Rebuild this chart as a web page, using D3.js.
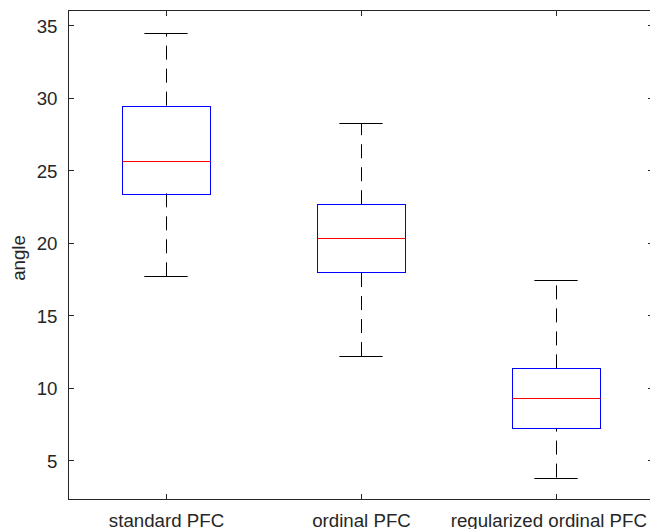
<!DOCTYPE html>
<html>
<head>
<meta charset="utf-8">
<script src="https://cdn.jsdelivr.net/npm/d3@7"></script>
<style>
  body { margin: 0; background: #fff; }
  svg { display: block; font-family: "Liberation Sans", Arial, Helvetica, sans-serif; }
  .axis text { fill: #262626; font-size: 18.7px; }
</style>
</head>
<body>
<svg id="chart"></svg>
<script>
// box plot statistics
const groups = ['standard PFC', 'ordinal PFC', 'regularized ordinal PFC'];
const lowerWhisker = [17.69, 12.19, 3.81];
const q1 = [23.41, 17.94, 7.21];
const median = [25.62, 20.33, 9.32];
const q3 = [29.46, 22.66, 11.34];
const upperWhisker = [34.45, 28.24, 17.43];
const yTicks = [5, 10, 15, 20, 25, 30, 35];
const yLimits = [2.3, 36.02];

const config = {
  width: 650,
  height: 529,
  left: 68.5,
  right: 653.5,
  top: 10.5,
  bottom: 499.5
};

const data = groups.map((g, i) => ({
  name: g,
  pos: i + 1,
  lo: lowerWhisker[i],
  q1: q1[i],
  med: median[i],
  q3: q3[i],
  hi: upperWhisker[i]
}));

const svg = d3.select('#chart')
    .attr('width', config.width)
    .attr('height', config.height);

const xScale = d3.scaleLinear()
    .domain([0.5, groups.length + 0.5])
    .range([config.left, config.right]);

const yScale = d3.scaleLinear()
    .domain(yLimits)
    .range([config.bottom, config.top]);

const boxHalf = 0.225;
const capHalf = 0.111;
const axisColor = '#262626';
const tickLen = 5.5;

// axes frame
svg.append('rect')
    .attr('x', config.left)
    .attr('y', config.top)
    .attr('width', config.right - config.left)
    .attr('height', config.bottom - config.top)
    .attr('fill', 'none')
    .attr('stroke', axisColor)
    .attr('stroke-width', 1);

// y axis, left
const yAxisG = svg.append('g')
    .attr('class', 'axis y-axis')
    .attr('transform', `translate(${config.left},0)`)
    .call(d3.axisLeft(yScale).tickValues(yTicks).tickSize(0).tickPadding(11));
yAxisG.select('.domain').remove();
yAxisG.selectAll('text').attr('dy', '0.36em');

// x axis, bottom
const xAxisG = svg.append('g')
    .attr('class', 'axis x-axis')
    .attr('transform', `translate(0,${config.bottom})`)
    .call(d3.axisBottom(xScale).tickValues(data.map(d => d.pos))
      .tickFormat((d, i) => groups[i]).tickSize(0).tickPadding(0));
xAxisG.select('.domain').remove();
xAxisG.selectAll('text').attr('dy', null).attr('y', 27);

// keep the last label inside the figure
xAxisG.selectAll('text').each(function() {
  const t = d3.select(this);
  const w = this.getComputedTextLength();
  const tx = +d3.select(this.parentNode).attr('transform').match(/translate\(([-\d.]+)/)[1];
  const maxRight = 647;
  if (tx + w / 2 > maxRight) t.attr('x', maxRight - (tx + w / 2));
});

// inward tick marks on all four sides
const ticks = svg.append('g').attr('stroke', axisColor).attr('stroke-width', 1);
yTicks.forEach(v => {
  const y = Math.round(yScale(v)) + 0.5;
  ticks.append('line').attr('x1', config.left).attr('x2', config.left + tickLen).attr('y1', y).attr('y2', y);
  ticks.append('line').attr('x1', config.right).attr('x2', config.right - tickLen).attr('y1', y).attr('y2', y);
});
data.forEach(d => {
  const x = Math.round(xScale(d.pos)) + 0.5;
  ticks.append('line').attr('x1', x).attr('x2', x).attr('y1', config.bottom).attr('y2', config.bottom - tickLen);
  ticks.append('line').attr('x1', x).attr('x2', x).attr('y1', config.top).attr('y2', config.top + tickLen);
});

// y label
svg.append('text')
    .attr('transform', `translate(25,${(config.top + config.bottom) / 2 + 3}) rotate(-90)`)
    .attr('text-anchor', 'middle')
    .attr('fill', axisColor)
    .style('font-size', '18.7px')
    .text('angle');

// boxes
const boxes = svg.append('g').selectAll('.box')
    .data(data)
  .join('g')
    .attr('class', 'box');

const px = v => Math.round(v) + 0.5;

// whiskers: upper from q3 outward, lower from lower adjacent value in to q1
boxes.append('line')
    .attr('x1', d => px(xScale(d.pos))).attr('x2', d => px(xScale(d.pos)))
    .attr('y1', d => yScale(d.q3)).attr('y2', d => yScale(d.hi))
    .attr('stroke', '#000').attr('stroke-dasharray', '14,9');
boxes.append('line')
    .attr('x1', d => px(xScale(d.pos))).attr('x2', d => px(xScale(d.pos)))
    .attr('y1', d => yScale(d.lo)).attr('y2', d => yScale(d.q1))
    .attr('stroke', '#000').attr('stroke-dasharray', '14,9');

// caps
['hi', 'lo'].forEach(k => {
  boxes.append('line')
      .attr('x1', d => xScale(d.pos - capHalf)).attr('x2', d => xScale(d.pos + capHalf))
      .attr('y1', d => px(yScale(d[k]))).attr('y2', d => px(yScale(d[k])))
      .attr('stroke', '#000');
});

// box body
boxes.append('rect')
    .attr('x', d => px(xScale(d.pos - boxHalf)))
    .attr('y', d => px(yScale(d.q3)))
    .attr('width', d => Math.round(xScale(d.pos + boxHalf) - xScale(d.pos - boxHalf)))
    .attr('height', d => Math.round(yScale(d.q1) - yScale(d.q3)))
    .attr('fill', 'none')
    .attr('stroke', '#0000ff');

// median
boxes.append('line')
    .attr('x1', d => px(xScale(d.pos - boxHalf))).attr('x2', d => px(xScale(d.pos + boxHalf)))
    .attr('y1', d => px(yScale(d.med))).attr('y2', d => px(yScale(d.med)))
    .attr('stroke', '#ff0000');
</script>
</body>
</html>
